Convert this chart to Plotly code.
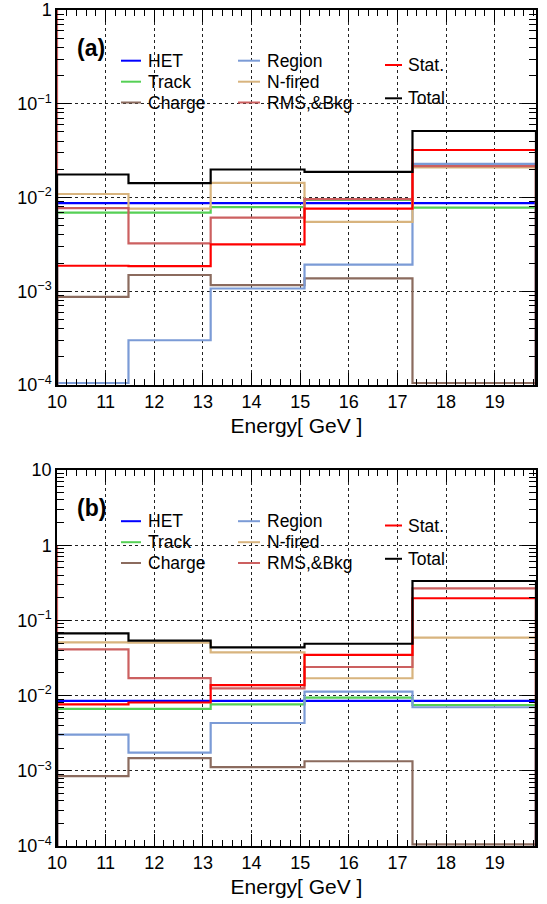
import plotly.graph_objects as go

# ---------------- data ----------------
EDGES = [10.0, 11.47, 13.16, 15.09, 17.31, 19.85]   # energy bin edges [GeV]
Y_FLOOR = 1e-4
X_TICKS = [10, 11, 12, 13, 14, 15, 16, 17, 18, 19]

SERIES = ["HET", "Track", "Charge", "Region", "N-fired", "RMS,&Bkg", "Stat.", "Total"]
COLORS = {
    "HET": "#0000ff",
    "Track": "#55d055",
    "Charge": "#8b6b5e",
    "Region": "#7b9bd6",
    "N-fired": "#d8b47e",
    "RMS,&Bkg": "#cc6060",
    "Stat.": "#ff0000",
    "Total": "#000000",
}

# panel (a)
HET_A = [0.0087, 0.0087, 0.0087, 0.0087, 0.0087]
TRACK_A = [0.0069, 0.0069, 0.0079, 0.0094, 0.0078]
CHARGE_A = [0.00087, 0.00149, 0.00116, 0.00137, 1.05e-4]
REGION_A = [1.05e-4, 0.0003, 0.00107, 0.00192, 0.0228]
NFIRED_A = [0.0109, 0.0076, 0.0143, 0.0055, 0.021]
RMS_A = [0.0077, 0.00324, 0.0061, 0.0096, 0.0216]
STAT_A = [0.00187, 0.00185, 0.00316, 0.0076, 0.0321]
TOTAL_A = [0.0176, 0.0142, 0.0199, 0.0188, 0.0512]

# panel (b)
HET_B = [0.0085, 0.0085, 0.0085, 0.0085, 0.0085]
TRACK_B = [0.00664, 0.00664, 0.00766, 0.00938, 0.0075]
CHARGE_B = [0.00085, 0.00147, 0.00112, 0.00134, 1.05e-4]
REGION_B = [0.00302, 0.00174, 0.00432, 0.0113, 0.0070]
NFIRED_B = [0.051, 0.0505, 0.0376, 0.017, 0.0589]
RMS_B = [0.0412, 0.0171, 0.0125, 0.024, 0.267]
STAT_B = [0.00766, 0.0081, 0.0138, 0.0347, 0.197]
TOTAL_B = [0.0673, 0.0537, 0.0438, 0.0489, 0.334]

RMS_LEFT_START = 1.0   # the RMS outline enters from y=1 at the left edge

PANEL_A = [HET_A, TRACK_A, CHARGE_A, REGION_A, NFIRED_A, RMS_A, STAT_A, TOTAL_A]
PANEL_B = [HET_B, TRACK_B, CHARGE_B, REGION_B, NFIRED_B, RMS_B, STAT_B, TOTAL_B]

Y_TICKS_A = [1e-4, 1e-3, 1e-2, 1e-1, 1]
Y_TEXT_A = ["10<sup>\u22124</sup>", "10<sup>\u22123</sup>", "10<sup>\u22122</sup>", "10<sup>\u22121</sup>", "1"]
Y_TICKS_B = [1e-4, 1e-3, 1e-2, 1e-1, 1, 10]
Y_TEXT_B = Y_TEXT_A + ["10"]

# ---------------- layout geometry (pixels) ----------------
W, H = 547, 904
ML, MR, MT, MB = 57, 11, 10, 58
PW, PH = W - ML - MR, H - MT - MB
FONT = "Liberation Sans, Arial, Helvetica, sans-serif"


def fx(px):
    return (px - ML) / PW


def fy(py):
    return (H - MB - py) / PH


def step_xy(values, start):
    x = [EDGES[0], EDGES[0]] + EDGES[1:-1] + [EDGES[-1], EDGES[-1]]
    y = [start] + list(values) + [values[-1], Y_FLOOR]
    return x, y


fig = go.Figure()
for suffix, panel in (("", PANEL_A), ("2", PANEL_B)):
    for name, vals in zip(SERIES, panel):
        start = RMS_LEFT_START if name == "RMS,&Bkg" else Y_FLOOR
        x, y = step_xy(vals, start)
        fig.add_trace(go.Scatter(
            x=x, y=y, mode="lines", name=name, showlegend=False,
            line=dict(color=COLORS[name], width=2.2, shape="hv"),
            xaxis="x" + suffix, yaxis="y" + suffix, hoverinfo="skip",
        ))

common_x = dict(
    range=[EDGES[0], EDGES[-1]], tickvals=X_TICKS, ticks="inside", ticklen=12,
    tickcolor="black", tickwidth=1, showline=True, linecolor="black", linewidth=1.5,
    mirror="allticks", showgrid=True, gridcolor="#222", griddash="dot", gridwidth=1,
    zeroline=False, tickfont=dict(family=FONT, size=18, color="black"),
    minor=dict(ticks="inside", ticklen=6, dtick=0.2, tickcolor="black", showgrid=False),
    title=dict(text="Energy[ GeV ]", font=dict(family=FONT, size=21, color="black"), standoff=7),
)
common_y = dict(
    type="log", ticks="inside", ticklen=14, tickcolor="black", tickwidth=1,
    showline=True, linecolor="black", linewidth=1.5, mirror="allticks",
    showgrid=True, gridcolor="#222", griddash="dot", gridwidth=1, zeroline=False,
    tickfont=dict(family=FONT, size=18, color="black"),
    minor=dict(ticks="inside", ticklen=7, dtick="D1", tickcolor="black", showgrid=False),
)

fig.update_layout(
    width=W, height=H, margin=dict(l=ML, r=MR, t=MT, b=MB, autoexpand=False),
    paper_bgcolor="white", plot_bgcolor="white", showlegend=False,
    xaxis=dict(common_x, domain=[0, 1], anchor="y"),
    yaxis=dict(common_y, domain=[fy(385), 1], anchor="x", range=[-4, 0],
               tickvals=Y_TICKS_A, ticktext=Y_TEXT_A),
    xaxis2=dict(common_x, domain=[0, 1], anchor="y2"),
    yaxis2=dict(common_y, domain=[0, fy(470)], anchor="x2", range=[-4, 1],
                tickvals=Y_TICKS_B, ticktext=Y_TEXT_B),
)

# ---------------- legends (drawn as shapes + text) ----------------
shapes, annotations = [], []
LEG_COLS = [
    (121, 141, 146, [("HET", 60.7), ("Track", 81.7), ("Charge", 102.5)]),
    (238, 260, 265, [("Region", 60.7), ("N-fired", 81.7), ("RMS,&Bkg", 102.5)]),
    (385, 402, 406, [("Stat.", 65.0), ("Total", 98.3)]),
]
for offset, label in ((0.0, "(a)"), (460.5, "(b)")):
    annotations.append(dict(
        x=fx(91), y=fy(47.5 + offset), xref="paper", yref="paper", text="<b>%s</b>" % label,
        showarrow=False, xanchor="center", yanchor="middle",
        font=dict(family=FONT, size=23, color="black"),
    ))
    for x0, x1, xt, rows in LEG_COLS:
        for name, py in rows:
            shapes.append(dict(
                type="line", xref="paper", yref="paper",
                x0=fx(x0), x1=fx(x1), y0=fy(py + offset), y1=fy(py + offset),
                line=dict(color=COLORS[name], width=2),
            ))
            annotations.append(dict(
                x=fx(xt), y=fy(py + offset), xref="paper", yref="paper", text=name,
                showarrow=False, xanchor="left", yanchor="middle",
                font=dict(family=FONT, size=17.5, color="black"),
            ))

fig.update_layout(shapes=shapes, annotations=annotations)
fig.write_html("out.html")
